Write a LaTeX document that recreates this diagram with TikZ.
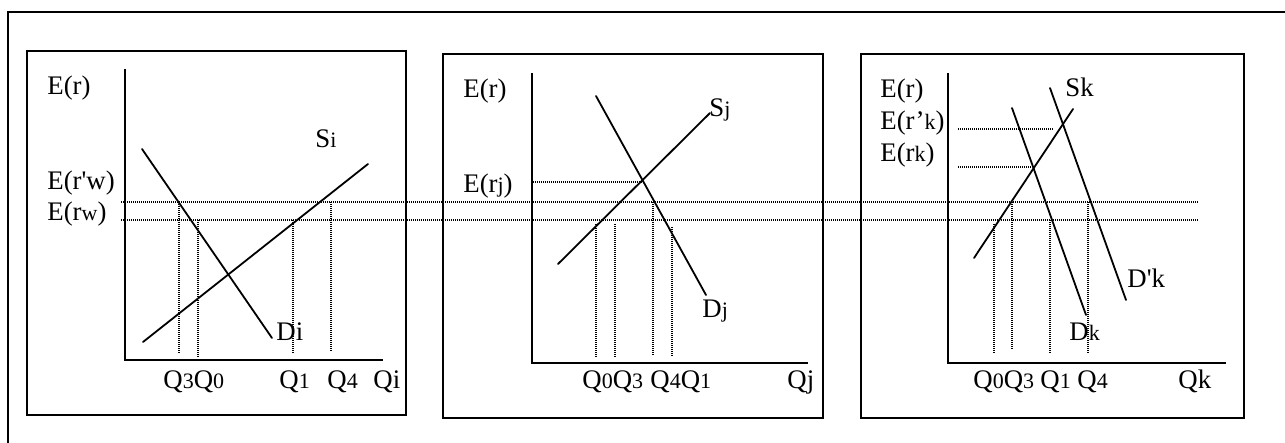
\documentclass[tikz,border=0pt]{standalone}
\usepackage{fontspec}
\setmainfont{Liberation Serif}
\newcommand{\lblfont}{\fontsize{13.4}{16}\selectfont}
\newcommand{\subq}[1]{{\fontsize{11}{13}\selectfont #1}}
\tikzset{
  frame/.style={draw=black, line width=1pt},
  axis/.style={draw=black, line width=1pt},
  curve/.style={draw=black, line width=0.9pt, line cap=round},
  guide/.style={draw=black, line width=0.7pt, dash pattern=on 0.5pt off 0.5pt},
  lbl/.style={inner sep=0pt, anchor=base west, font=\lblfont}
}

\begin{document}
\begin{tikzpicture}[x=0.5pt,y=-0.5pt]
  \useasboundingbox (0,0) rectangle (1285,443);
  % outer frame, only its top and left edges in view
  \draw[frame] (1285,12) -- (8,12) -- (8,443);
  \draw[frame] (27,51) rectangle (406,415);
  \draw[frame] (443,54) rectangle (823,418);
  \draw[frame] (861,54) rectangle (1244,418);

  % shared levels E(r'w) and E(rw)
  \coordinate (wh0) at (121,202); \coordinate (wh1) at (1199,202);
  \coordinate (wl0) at (121,220); \coordinate (wl1) at (1199,220);
  \draw[guide] (wh0) -- (wh1);
  \draw[guide] (wl0) -- (wl1);

  % --- market i ---
  \coordinate (yi) at (125,69); \coordinate (oi) at (125,360); \coordinate (xi) at (383,360);
  \draw[axis] (yi) -- (oi) -- (xi);
  \coordinate (Di0) at (142,149); \coordinate (Di1) at (272,338);
  \coordinate (Si0) at (143,342); \coordinate (Si1) at (368,164);
  \draw[curve] (Di0) -- (Di1);
  \draw[curve] (Si0) -- (Si1);
  \foreach \x/\a/\b in {179/202/354, 198/220/357, 293/220/353, 331/202/351} {
    \draw[guide] (\x,\a) -- (\x,\b);
  }
  \node[lbl] (Eri) at (47,95) {E(r)};
  \node[lbl] (Erwh) at (47,190) {E(r\textquotesingle w)};
  \node[lbl] (Erwl) at (47,221) {E(r\subq{w})};
  \node[lbl] (Si) at (315,148) {S\subq{i}};
  \node[lbl] (Di) at (276,340) {Di};
  \node[lbl] (Q30i) at (163,388) {Q\subq{3}Q\subq{0}};
  \node[lbl] (Q1i) at (279,388) {Q\subq{1}};
  \node[lbl] (Q4i) at (327,388) {Q\subq{4}};
  \node[lbl] (Qi) at (373,388) {Qi};

  % --- market j ---
  \coordinate (yj) at (532,73); \coordinate (oj) at (532,363); \coordinate (xj) at (808,363);
  \draw[axis] (yj) -- (oj) -- (xj);
  \coordinate (Dj0) at (596,96); \coordinate (Dj1) at (706,295);
  \coordinate (Sj0) at (558,264); \coordinate (Sj1) at (710,113);
  \draw[curve] (Dj0) -- (Dj1);
  \draw[curve] (Sj0) -- (Sj1);
  \draw[guide] (533,182) -- (642,182);
  \foreach \x/\a/\b in {596/224/357, 615/224/357, 653/202/355, 672/227/357} {
    \draw[guide] (\x,\a) -- (\x,\b);
  }
  \node[lbl] (Erj) at (463,98) {E(r)};
  \node[lbl] (Errj) at (463,193) {E(r\subq{j})};
  \node[lbl] (Sj) at (709,117) {S\subq{j}};
  \node[lbl] (Dj) at (702,317) {D\subq{j}};
  \node[lbl] (Q03j) at (582,388) {Q\subq{0}Q\subq{3}};
  \node[lbl] (Q41j) at (650,388) {Q\subq{4}Q\subq{1}};
  \node[lbl] (Qj) at (787,388) {Qj};

  % --- market k ---
  \coordinate (yk) at (948,73); \coordinate (ok) at (948,363); \coordinate (xk) at (1226,363);
  \draw[axis] (yk) -- (ok) -- (xk);
  \coordinate (Sk0) at (974,258); \coordinate (Sk1) at (1073,109);
  \coordinate (Dk0) at (1012,108); \coordinate (Dk1) at (1086,315);
  \coordinate (Dpk0) at (1050,88); \coordinate (Dpk1) at (1126,300);
  \draw[curve] (Sk0) -- (Sk1);
  \draw[curve] (Dk0) -- (Dk1);
  \draw[curve] (Dpk0) -- (Dpk1);
  \draw[guide] (958,129) -- (1053,129);
  \draw[guide] (958,167) -- (1032,167);
  \foreach \x/\a/\b in {994/224/353, 1012/202/350, 1050/220/353, 1088/202/353} {
    \draw[guide] (\x,\a) -- (\x,\b);
  }
  \node[lbl] (Erk) at (880,98) {E(r)};
  \node[lbl] (Erpk) at (880,130) {E(r’\subq{k})};
  \node[lbl] (Errk) at (880,162) {E(r\subq{k})};
  \node[lbl] (Sk) at (1065,97) {Sk};
  \node[lbl] (Dpk) at (1127,287) {D\textquotesingle k};
  \node[lbl] (Dk) at (1069,340) {D\subq{k}};
  \node[lbl] (Q03k) at (973,388) {Q\subq{0}Q\subq{3}};
  \node[lbl] (Q1k) at (1040,388) {Q\subq{1}};
  \node[lbl] (Q4k) at (1077,388) {Q\subq{4}};
  \node[lbl] (Qk) at (1178,388) {Qk};
\end{tikzpicture}
\end{document}
